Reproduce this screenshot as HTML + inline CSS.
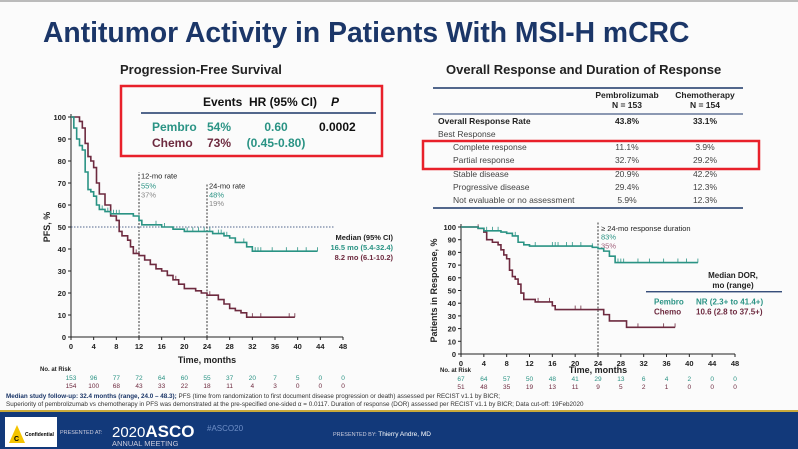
<!DOCTYPE html>
<html><head><meta charset="utf-8">
<style>
body{margin:0;width:798px;height:449px;overflow:hidden;background:#fafafa;font-family:"Liberation Sans",Arial,sans-serif;}
svg{display:block}
text{font-family:"Liberation Sans",Arial,sans-serif}
</style></head>
<body>
<svg width="798" height="449" viewBox="0 0 798 449">
<rect x="0" y="0" width="798" height="449" fill="#fbfbfb"/>
<rect x="0" y="0" width="798" height="2" fill="#bbb"/>
<text x="43" y="42" font-size="28.3" font-weight="bold" fill="#1b3668">Antitumor Activity in Patients With MSI-H mCRC</text>
<text x="120" y="74" font-size="13" font-weight="bold" fill="#222">Progression-Free Survival</text>
<text x="446" y="74" font-size="13" font-weight="bold" fill="#222">Overall Response and Duration of Response</text>

<!-- PFS stats box -->
<g>
<rect x="121" y="86" width="261" height="70" fill="none" stroke="#e8202a" stroke-width="2.5"/>
<text x="203" y="106" font-size="12" font-weight="bold" fill="#111">Events</text>
<text x="249" y="106" font-size="12" font-weight="bold" fill="#111">HR (95% CI)</text>
<text x="331" y="106" font-size="12" font-weight="bold" font-style="italic" fill="#111">P</text>
<line x1="141" y1="113" x2="376" y2="113" stroke="#1b3668" stroke-width="1.5"/>
<text x="152" y="131" font-size="12" font-weight="bold" fill="#2a9384">Pembro</text>
<text x="207" y="131" font-size="12" font-weight="bold" fill="#2a9384">54%</text>
<text x="276" y="131" font-size="12" font-weight="bold" fill="#2a9384" text-anchor="middle">0.60</text>
<text x="319" y="131" font-size="12" font-weight="bold" fill="#111">0.0002</text>
<text x="152" y="147" font-size="12" font-weight="bold" fill="#6d2a3f">Chemo</text>
<text x="207" y="147" font-size="12" font-weight="bold" fill="#6d2a3f">73%</text>
<text x="276" y="147" font-size="12" font-weight="bold" fill="#2a9384" text-anchor="middle">(0.45-0.80)</text>
</g>

<!-- Right table -->
<g font-size="8.5" fill="#444">
<line x1="433" y1="88" x2="743" y2="88" stroke="#1b3668" stroke-width="1.5"/>
<text x="627" y="98" text-anchor="middle" font-weight="bold" fill="#222">Pembrolizumab</text>
<text x="627" y="108" text-anchor="middle" font-weight="bold" fill="#222">N = 153</text>
<text x="705" y="98" text-anchor="middle" font-weight="bold" fill="#222">Chemotherapy</text>
<text x="705" y="108" text-anchor="middle" font-weight="bold" fill="#222">N = 154</text>
<line x1="433" y1="114" x2="743" y2="114" stroke="#1b3668" stroke-width="1"/>
<text x="438" y="124" font-weight="bold" fill="#222">Overall Response Rate</text>
<text x="627" y="124" text-anchor="middle" font-weight="bold" fill="#222">43.8%</text>
<text x="705" y="124" text-anchor="middle" font-weight="bold" fill="#222">33.1%</text>
<text x="438" y="137">Best Response</text>
<text x="453" y="150">Complete response</text><text x="627" y="150" text-anchor="middle">11.1%</text><text x="705" y="150" text-anchor="middle">3.9%</text>
<text x="453" y="163">Partial response</text><text x="627" y="163" text-anchor="middle">32.7%</text><text x="705" y="163" text-anchor="middle">29.2%</text>
<text x="453" y="177">Stable disease</text><text x="627" y="177" text-anchor="middle">20.9%</text><text x="705" y="177" text-anchor="middle">42.2%</text>
<text x="453" y="190">Progressive disease</text><text x="627" y="190" text-anchor="middle">29.4%</text><text x="705" y="190" text-anchor="middle">12.3%</text>
<text x="453" y="203">Not evaluable or no assessment</text><text x="627" y="203" text-anchor="middle">5.9%</text><text x="705" y="203" text-anchor="middle">12.3%</text>
<line x1="433" y1="208" x2="743" y2="208" stroke="#1b3668" stroke-width="1.5"/>
<rect x="423" y="141" width="336" height="28" fill="none" stroke="#e8202a" stroke-width="2.5"/>
</g>

<g id="pfs"></g>
<g id="dor"></g>

<!-- footnotes -->
<text x="6" y="398" font-size="6.3" fill="#333"><tspan font-weight="bold" fill="#1b3668">Median study follow-up: 32.4 months (range, 24.0 – 48.3);</tspan> PFS (time from randomization to first document disease progression or death) assessed per RECIST v1.1 by BICR;</text>
<text x="6" y="406" font-size="6.3" fill="#333">Superiority of pembrolizumab vs chemotherapy in PFS was demonstrated at the pre-specified one-sided α = 0.0117. Duration of response (DOR) assessed per RECIST v1.1 by BICR; Data cut-off: 19Feb2020</text>

<!-- footer -->
<g>
<rect x="0" y="410" width="798" height="2" fill="#c9a93a"/>
<rect x="0" y="412" width="798" height="37" fill="#12397a"/>
<rect x="5" y="417" width="52" height="30" fill="#fff"/>
<polygon points="9,443 17,425 25,443" fill="#f4c400"/>
<text x="14" y="441" font-size="7" font-weight="bold" fill="#000">C</text>
<text x="25" y="436" font-size="5" font-weight="bold" fill="#000">Confidential</text>
<text x="60" y="434" font-size="5.5" fill="#ccd">PRESENTED AT:</text>
<text x="112" y="437" font-size="15" fill="#fff">2020<tspan font-weight="bold" font-size="17">ASCO</tspan></text>
<text x="112" y="446" font-size="7.5" fill="#ccd">ANNUAL MEETING</text>
<text x="207" y="431" font-size="8" fill="#6f8fc7">#ASCO20</text>
<text x="333" y="436" font-size="5.5" fill="#ccd">PRESENTED BY: <tspan font-size="6.5" fill="#fff">Thierry Andre, MD</tspan></text>
</g>
</svg>
<script>
// PFS data
const pfsPembroT=[0,0.5,1,1.5,2,2.5,3,3.5,4,4.5,5,6,7,11,12,12.5,16,18,20,24,25,27,28,29,31,32,43.5];
const pfsPembroV=[100,95,90,87,85,75,67,66,64,60,58,57,56,55,53,51,50,49,48,48,47,46,45,43,41,39,39];
const pfsChemoT=[0,1.5,2,2.5,3,3.5,4,4.5,5,6,7,8,8.5,9,10,10.5,11,12,13,14,15,16,17,18,19,20,22,23,24,26,27,28,29,30,31,39.5];
const pfsChemoV=[100,98,95,88,82,80,77,70,65,60,55,53,48,46,44,41,38,37,35,33,31,30,28,26,24,22,21,20,19,17,15,13,12,11,9,9];
const pfsPembroCens=[5.5,6.5,7.5,8,8.5,12,15,16.5,20.5,21.5,22.5,23.5,24.5,26,26.5,27,27.5,30.5,32.5,33,33.5,35.5,38,40,41.5,43.5];
const pfsChemoCens=[3,4.5,6,11.5,14,17,18.5,24.5,26,32,33.5,38.5,39.5];
const pfsRiskP=[153,96,77,72,64,60,55,37,20,7,5,0,0];
const pfsRiskC=[154,100,68,43,33,22,18,11,4,3,0,0,0];
// DOR data
const dorPembroT=[0,3,4,7,8,9,10,11,12,23,24,25,26,27,41.5];
const dorPembroV=[100,99,97,96,95,93,88,86,85,84,83,81,77,72,72];
const dorChemoT=[0,3,4,4.5,5.5,6.5,7,7.5,8,8.5,9,9.5,10,10.5,11,13,16,16.5,24,25,26,29,37.5];
const dorChemoV=[100,99,96,90,88,86,82,78,75,66,61,59,55,48,43,41,38,35,35,31,26,21,21];
const dorPembroCens=[4.5,5.5,6.5,9.5,13,16,16.5,17,18.5,19.5,21,23,27.5,28,28.5,31,33,35.5,38,39.5,41.5];
const dorChemoCens=[3,13.5,15.5,16,20,21,26,31,35.5,37.5];
const dorRiskP=[67,64,57,50,48,41,29,13,6,4,2,0,0];
const dorRiskC=[51,48,35,19,13,11,9,5,2,1,0,0,0];
const xTicks=[0,4,8,12,16,20,24,28,32,36,40,44,48];
const yTicks=[0,10,20,30,40,50,60,70,80,90,100];
const TEAL="#2a9384", MAROON="#6d2a3f", NS="http://www.w3.org/2000/svg";

function mk(parent,tag,attrs,txt){const e=document.createElementNS(NS,tag);for(const k in attrs)e.setAttribute(k,attrs[k]);if(txt!==undefined)e.textContent=txt;parent.appendChild(e);return e;}
function stepPath(T,V,sx,sy){let d="M"+sx(T[0])+","+sy(V[0]);for(let i=1;i<T.length;i++){d+="H"+sx(T[i])+"V"+sy(V[i]);}return d;}
function valAt(T,V,t){let v=V[0];for(let i=0;i<T.length;i++){if(T[i]<=t)v=V[i];}return v;}

function draw(g,cfg){
  const sx=t=>cfg.x0+t*(cfg.x1-cfg.x0)/48, sy=v=>cfg.y0-v*(cfg.y0-cfg.y1)/100;
  const ax=mk(g,"g",{});
  
  
  mk(ax,"line",{x1:cfg.x0,y1:cfg.y0,x2:cfg.x0,y2:cfg.y1-3,stroke:"#222","stroke-width":1});
  mk(ax,"line",{x1:cfg.x0,y1:cfg.y0,x2:cfg.x1,y2:cfg.y0,stroke:"#222","stroke-width":1});
  yTicks.forEach(v=>{mk(ax,"line",{x1:cfg.x0-3,y1:sy(v),x2:cfg.x0,y2:sy(v),stroke:"#222"});
    const t=mk(ax,"text",{x:cfg.x0-5,y:sy(v)+3,"font-size":7.5,"font-weight":"bold","text-anchor":"end",fill:"#222"},v);
    
    });
  xTicks.forEach((m,i)=>{mk(ax,"line",{x1:sx(m),y1:cfg.y0,x2:sx(m),y2:cfg.y0+3,stroke:"#222"});
    const t=mk(ax,"text",{x:sx(m),y:cfg.y0+12,"font-size":7.5,"font-weight":"bold","text-anchor":"middle",fill:"#222"},m);
    
    
    const r1=mk(ax,"text",{x:sx(m),y:cfg.riskY,"font-size":6.5,"text-anchor":"middle",fill:TEAL},cfg.riskP[i]);
    
    
    const r2=mk(ax,"text",{x:sx(m),y:cfg.riskY+8,"font-size":6.5,"text-anchor":"middle",fill:MAROON},cfg.riskC[i]);
    
    });
  const xt=mk(ax,"text",{x:(cfg.x0+cfg.x1)/2,y:cfg.y0+cfg.titleOff,"font-size":9,"font-weight":"bold","text-anchor":"middle",fill:"#222"},"Time, months");
  
  
  const yt=mk(ax,"text",{x:0,y:0,"font-size":9,"font-weight":"bold","text-anchor":"middle",fill:"#222",transform:`translate(${cfg.yTitleX},${(cfg.y0+cfg.y1)/2}) rotate(-90)`},cfg.yTitle);
  
  
  const nr=mk(ax,"text",{x:cfg.riskLabelX,y:cfg.riskY-9,"font-size":6,"font-weight":"bold",fill:"#222"},"No. at Risk");
  
  
  cfg.extra(g,sx,sy);
  [[cfg.cT,cfg.cV,cfg.cCens,MAROON,'chemo-curve'],[cfg.pT,cfg.pV,cfg.pCens,TEAL,'pembro-curve']].forEach(s=>{
    const p=mk(g,"path",{d:stepPath(s[0],s[1],sx,sy),fill:"none",stroke:s[3],"stroke-width":1.6});
    
    
    s[2].forEach(t=>{const v=valAt(s[0],s[1],t);const c=mk(g,"line",{x1:sx(t),x2:sx(t),y1:sy(v)-4,y2:sy(v),stroke:s[3],"stroke-width":0.8});
      
      });
  });
}

draw(document.getElementById("pfs"),{x0:71,x1:343,y0:337,y1:117,riskY:380,riskLabelX:40,yTitleX:50,yTitle:"PFS, %",titleOff:26,
 pT:pfsPembroT,pV:pfsPembroV,cT:pfsChemoT,cV:pfsChemoV,pCens:pfsPembroCens,cCens:pfsChemoCens,riskP:pfsRiskP,riskC:pfsRiskC,
 extra:(g,sx,sy)=>{
  mk(g,"line",{x1:sx(0),x2:sx(46.5),y1:sy(50),y2:sy(50),stroke:"#1b3668","stroke-width":0.8,"stroke-dasharray":"1.5,1.5"});
  [12,24].forEach(m=>mk(g,"line",{x1:sx(m),x2:sx(m),y1:sy(0),y2:sy(m==12?75:70),stroke:"#222","stroke-width":0.9,"stroke-dasharray":"2,1.5"}));
  mk(g,"text",{x:sx(12)+2,y:sy(72),"font-size":7.5,fill:"#222"},"12-mo rate");
  mk(g,"text",{x:sx(12)+2,y:sy(67.5),"font-size":7.5,fill:TEAL},"55%");
  mk(g,"text",{x:sx(12)+2,y:sy(63.5),"font-size":7.5,fill:"#888"},"37%");
  mk(g,"text",{x:sx(24)+2,y:sy(67.5),"font-size":7.5,fill:"#222"},"24-mo rate");
  mk(g,"text",{x:sx(24)+2,y:sy(63.5),"font-size":7.5,fill:TEAL},"48%");
  mk(g,"text",{x:sx(24)+2,y:sy(59.5),"font-size":7.5,fill:"#888"},"19%");
  mk(g,"text",{x:393,y:sy(44),"font-size":7.5,"font-weight":"bold","text-anchor":"end",fill:"#222"},"Median (95% CI)");
  mk(g,"text",{x:393,y:sy(39.5),"font-size":7.5,"font-weight":"bold","text-anchor":"end",fill:TEAL},"16.5 mo (5.4-32.4)");
  mk(g,"text",{x:393,y:sy(35),"font-size":7.5,"font-weight":"bold","text-anchor":"end",fill:MAROON},"8.2 mo (6.1-10.2)");
 }});

draw(document.getElementById("dor"),{x0:461,x1:735,y0:354,y1:227,riskY:381,riskLabelX:440,yTitleX:437,yTitle:"Patients in Response, %",titleOff:19,
 pT:dorPembroT,pV:dorPembroV,cT:dorChemoT,cV:dorChemoV,pCens:dorPembroCens,cCens:dorChemoCens,riskP:dorRiskP,riskC:dorRiskC,
 extra:(g,sx,sy)=>{
  mk(g,"line",{x1:sx(24),x2:sx(24),y1:sy(0),y2:sy(104),stroke:"#222","stroke-width":0.9,"stroke-dasharray":"2,1.5"});
  mk(g,"text",{x:sx(24)+3,y:sy(97),"font-size":7.5,fill:"#222"},"≥ 24-mo response duration");
  mk(g,"text",{x:sx(24)+3,y:sy(90),"font-size":7.5,fill:TEAL},"83%");
  mk(g,"text",{x:sx(24)+3,y:sy(83),"font-size":7.5,fill:"#a0607a"},"35%");
  mk(g,"text",{x:733,y:sy(60),"font-size":8,"font-weight":"bold","text-anchor":"middle",fill:"#222"},"Median  DOR,");
  mk(g,"text",{x:733,y:sy(52),"font-size":8,"font-weight":"bold","text-anchor":"middle",fill:"#222"},"mo (range)");
  mk(g,"line",{x1:646,x2:782,y1:sy(49),y2:sy(49),stroke:"#1b3668","stroke-width":1.2});
  mk(g,"text",{x:654,y:sy(39),"font-size":8,"font-weight":"bold",fill:TEAL},"Pembro");
  mk(g,"text",{x:696,y:sy(39),"font-size":8,"font-weight":"bold",fill:TEAL},"NR (2.3+ to 41.4+)");
  mk(g,"text",{x:654,y:sy(31),"font-size":8,"font-weight":"bold",fill:MAROON},"Chemo");
  mk(g,"text",{x:696,y:sy(31),"font-size":8,"font-weight":"bold",fill:MAROON},"10.6 (2.8 to 37.5+)");
 }});
</script>
</body></html>
